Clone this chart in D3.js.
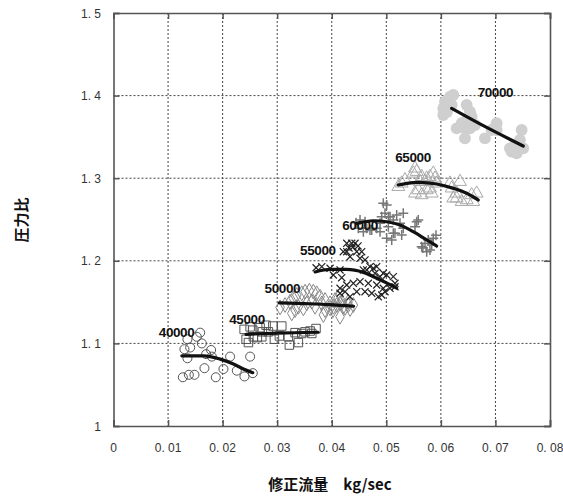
<!DOCTYPE html>
<html><head><meta charset="utf-8">
<script src="https://cdn.jsdelivr.net/npm/d3@7/dist/d3.min.js"></script>
<style>body{margin:0;background:#fff}svg{display:block}</style>
</head><body>
<script>
// ---- data ----
const xTicks = [0,0.01,0.02,0.03,0.04,0.05,0.06,0.07,0.08];
const xTickLabels = ["0","0. 01","0. 02","0. 03","0. 04","0. 05","0. 06","0. 07","0. 08"];
const yTicks = [1,1.1,1.2,1.3,1.4,1.5];
const yTickLabels = ["1","1. 1","1. 2","1. 3","1. 4","1. 5"];
const seriesNames = ["40000","45000","50000","55000","60000","65000","70000"];

const pts40000 = [[0.01271,1.059],[0.01381,1.062],[0.01484,1.062],[0.0130,1.093],[0.01355,1.082],[0.01405,1.095],[0.01355,1.105],[0.01527,1.108],[0.01588,1.113],[0.01619,1.100],[0.01698,1.087],[0.01789,1.092],[0.01802,1.084],[0.01667,1.070],[0.01875,1.059],[0.02015,1.069],[0.02137,1.084],[0.0226,1.067],[0.0240,1.060],[0.02504,1.084],[0.02553,1.064]];
const pts45000 = [[0.0243,1.105],[0.02473,1.101],[0.02504,1.120],[0.02553,1.116],[0.02564,1.108],[0.02637,1.107],[0.02687,1.119],[0.02718,1.108],[0.02729,1.114],[0.02797,1.122],[0.02839,1.114],[0.0292,1.121],[0.02949,1.105],[0.0304,1.109],[0.03084,1.121],[0.03205,1.108],[0.03223,1.098],[0.03328,1.113],[0.03388,1.101],[0.0345,1.112],[0.03511,1.114],[0.03603,1.115],[0.03634,1.112],[0.03712,1.118],[0.02394,1.117]];
const pts50000 = [[0.03053,1.1437],[0.03144,1.1465],[0.03236,1.1505],[0.03297,1.1546],[0.03359,1.1586],[0.03451,1.1607],[0.03511,1.1626],[0.0359,1.1638],[0.03663,1.1626],[0.03725,1.1607],[0.03786,1.1565],[0.03267,1.1364],[0.03328,1.1404],[0.03388,1.1444],[0.0348,1.1425],[0.03542,1.1485],[0.03634,1.1505],[0.03694,1.1444],[0.03817,1.1485],[0.03877,1.1525],[0.03969,1.1485],[0.04029,1.1444],[0.04092,1.1465],[0.04152,1.1485],[0.04212,1.1444],[0.04304,1.1465],[0.04396,1.1465],[0.04152,1.1323],[0.03969,1.1425],[0.03877,1.1404],[0.03846,1.1344],[0.0406,1.1525],[0.04115,1.155],[0.04189,1.150],[0.04244,1.143],[0.04299,1.150],[0.04335,1.1416],[0.04024,1.1404]];
const pts55000 = [[0.03713,1.1916],[0.03817,1.1929],[0.03969,1.1909],[0.04029,1.1828],[0.04152,1.1889],[0.04183,1.1795],[0.04212,1.211],[0.04275,1.2212],[0.04275,1.211],[0.04335,1.205],[0.04366,1.2212],[0.04427,1.2212],[0.04458,1.211],[0.04518,1.203],[0.04549,1.211],[0.0461,1.201],[0.04579,1.1889],[0.04641,1.1889],[0.04701,1.1929],[0.04762,1.1909],[0.04824,1.1929],[0.04793,1.1849],[0.04885,1.1808],[0.04945,1.1849],[0.05007,1.1828],[0.05128,1.1808],[0.05159,1.1686],[0.05068,1.1667],[0.04945,1.1667],[0.04824,1.1707],[0.0467,1.1728],[0.04518,1.1747],[0.04396,1.1728],[0.04275,1.1707],[0.04244,1.1626],[0.04152,1.1607],[0.04335,1.1565],[0.04458,1.1626],[0.0461,1.1626],[0.04733,1.1607],[0.04853,1.1565],[0.04976,1.1626],[0.04916,1.1586],[0.05159,1.1728],[0.04152,1.1667],[0.04317,1.2155],[0.0439,1.2167],[0.04482,1.218]];
const pts60000 = [[0.04445,1.2461],[0.04518,1.2494],[0.0461,1.2473],[0.04487,1.2393],[0.04579,1.2352],[0.04641,1.2393],[0.04701,1.2373],[0.04733,1.2373],[0.04824,1.2393],[0.04885,1.2454],[0.04885,1.2352],[0.04916,1.2534],[0.04945,1.2696],[0.04976,1.2575],[0.05007,1.2676],[0.05037,1.2534],[0.05068,1.2534],[0.05037,1.2413],[0.05128,1.2494],[0.05128,1.2333],[0.0519,1.2554],[0.05159,1.2333],[0.05099,1.2252],[0.05007,1.2272],[0.05251,1.2454],[0.05311,1.2393],[0.05282,1.2312],[0.05311,1.2575],[0.05526,1.2413],[0.05557,1.2473],[0.05586,1.2494],[0.05648,1.2171],[0.05709,1.2212],[0.05769,1.2252],[0.058,1.2131],[0.0574,1.211],[0.05861,1.2272],[0.05832,1.2191],[0.0591,1.231],[0.0567,1.2155]];
const pts65000 = [[0.0522,1.2897],[0.05282,1.2938],[0.05342,1.2978],[0.05495,1.3059],[0.05526,1.312],[0.05557,1.3079],[0.05617,1.2958],[0.05648,1.3018],[0.05709,1.2958],[0.0574,1.2999],[0.058,1.3018],[0.05861,1.3059],[0.05892,1.2999],[0.05923,1.2938],[0.05526,1.2817],[0.05586,1.2857],[0.05648,1.2797],[0.0574,1.2857],[0.058,1.2878],[0.05832,1.2817],[0.06167,1.2938],[0.06198,1.2878],[0.06289,1.2817],[0.0635,1.2958],[0.06227,1.2757],[0.06289,1.2757],[0.06381,1.2715],[0.06473,1.2736],[0.06564,1.2797],[0.06656,1.2817],[0.06593,1.2715]];
const pts70000 = [[0.06075,1.3926],[0.06167,1.3987],[0.06227,1.4007],[0.06044,1.3846],[0.06044,1.3765],[0.06198,1.3886],[0.06112,1.3801],[0.06473,1.3886],[0.06533,1.3805],[0.06564,1.3745],[0.06473,1.3705],[0.06381,1.3665],[0.06289,1.3604],[0.06441,1.3604],[0.06533,1.3604],[0.06625,1.3644],[0.06441,1.3483],[0.06808,1.3483],[0.0693,1.3584],[0.07022,1.3665],[0.07022,1.3584],[0.07266,1.3362],[0.07388,1.3301],[0.07357,1.3402],[0.0748,1.3584],[0.07449,1.3462],[0.07509,1.3362],[0.07297,1.3321]];

const fit40000 = [[0.01253,1.085],[0.01648,1.085],[0.01954,1.081],[0.02198,1.075],[0.02381,1.069],[0.02553,1.0645]];
const fit45000 = [[0.0243,1.111],[0.030,1.1125],[0.0375,1.1135]];
const fit50000 = [[0.0304,1.149],[0.036,1.148],[0.0395,1.147],[0.044,1.145]];
const fit55000 = [[0.03695,1.1865],[0.03969,1.1895],[0.04275,1.1895],[0.04579,1.186],[0.04885,1.177],[0.0519,1.167]];
const fit60000 = [[0.04458,1.2454],[0.04762,1.2485],[0.05007,1.2473],[0.05251,1.2433],[0.05495,1.2352],[0.0574,1.2252],[0.05923,1.2179]];
const fit65000 = [[0.0522,1.2918],[0.05495,1.2946],[0.05587,1.2950],[0.05923,1.2930],[0.0623,1.2877],[0.06473,1.2817],[0.06686,1.2736]];
const fit70000 = [[0.06198,1.3846],[0.0683,1.3618],[0.0751,1.3390]];

// label anchors (data units: center x, baseline y)
const labelX = [0.01156,0.02447,0.03095,0.03745,0.04518,0.05489,0.07];
const labelY = [1.108,1.1235,1.1610,1.2073,1.2372,1.3200,1.3980];

// ---- chart ----
const W = 563, H = 497;
const svg = d3.select("body").append("svg").attr("width", W).attr("height", H);
const x = d3.scaleLinear().domain([0, 0.08]).range([113.5, 550]);
const y = d3.scaleLinear().domain([1, 1.5]).range([426, 13]);
const tickFont = "'Liberation Sans', Arial, sans-serif";

// grid
const grid = svg.append("g");
grid.selectAll("line.v").data(xTicks.slice(1, -1)).join("line")
  .attr("x1", d => x(d)).attr("x2", d => x(d)).attr("y1", y(1.5)).attr("y2", y(1))
  .attr("stroke", "#444").attr("stroke-width", 1).attr("stroke-dasharray", "2,2");
grid.selectAll("line.h").data(yTicks.slice(1, -1)).join("line")
  .attr("x1", x(0)).attr("x2", x(0.08)).attr("y1", d => y(d)).attr("y2", d => y(d))
  .attr("stroke", "#444").attr("stroke-width", 1).attr("stroke-dasharray", "2,2");

// axes (inward ticks)
const axB = d3.axisBottom(x).tickValues(xTicks).tickSize(-6).tickFormat("");
const axT = d3.axisTop(x).tickValues(xTicks).tickSize(-6).tickFormat("");
const axL = d3.axisLeft(y).tickValues(yTicks).tickSize(-6).tickFormat("");
const axR = d3.axisRight(y).tickValues(yTicks).tickSize(-6).tickFormat("");
function styleAx(g){ g.selectAll("path,line").attr("stroke","#555").attr("stroke-width",1.5); }
svg.append("g").attr("transform",`translate(0,${y(1)})`).call(axB).call(styleAx);
svg.append("g").attr("transform",`translate(0,${y(1.5)})`).call(axT).call(styleAx);
svg.append("g").attr("transform",`translate(${x(0)},0)`).call(axL).call(styleAx);
svg.append("g").attr("transform",`translate(${x(0.08)},0)`).call(axR).call(styleAx);
svg.selectAll(".domain").attr("stroke","#555").attr("stroke-width",1.6);

// tick labels
svg.append("g").selectAll("text").data(xTicks).join("text")
  .attr("x", d => x(d)).attr("y", 452).attr("text-anchor","middle")
  .attr("font-family", tickFont).attr("font-size", 12).attr("fill","#333")
  .text((d,i) => xTickLabels[i]);
svg.append("g").selectAll("text").data(yTicks).join("text")
  .attr("x", 101).attr("y", d => y(d) + 4.5).attr("text-anchor","end")
  .attr("font-family", tickFont).attr("font-size", 12).attr("fill","#333")
  .text((d,i) => yTickLabels[i]);

// axis titles
svg.append("text").attr("x", 330).attr("y", 490).attr("text-anchor","middle")
  .attr("font-family","'Noto Sans CJK JP', sans-serif").attr("font-weight","bold")
  .attr("font-size", 15).attr("fill","#111").text("修正流量\u3000kg/sec");
svg.append("text").attr("transform","translate(27,220) rotate(-90)").attr("text-anchor","middle")
  .attr("font-family","'Noto Sans CJK JP', sans-serif").attr("font-weight","bold")
  .attr("font-size", 15).attr("fill","#111").text("圧力比");

// markers
const allPts = [pts40000, pts45000, pts50000, pts55000, pts60000, pts65000, pts70000];
const symTypes = [d3.symbolCircle, d3.symbolSquare, d3.symbolDiamond, d3.symbolCross, d3.symbolCross, d3.symbolTriangle, d3.symbolCircle];
const symSizes = [64, 72, 64, 0, 0, 72, 110];
const strokes = ["#555","#555","#888","#222","#777","#aaa","none"];
const fills = ["none","none","none","none","none","none","#cfcfcf"];
const pg = svg.append("g");
allPts.forEach((pts, i) => {
  const g = pg.append("g");
  if (i === 3 || i === 4) {
    const r = i === 3 ? 5 : 5;
    g.selectAll("path").data(pts).join("path")
      .attr("transform", d => `translate(${x(d[0])},${y(d[1])})` + (i === 3 ? " rotate(45)" : ""))
      .attr("d", `M${-r},0H${r}M0,${-r}V${r}`)
      .attr("stroke", strokes[i]).attr("stroke-width", i === 3 ? 1.2 : 1.5).attr("fill","none");
  } else {
    g.selectAll("path").data(pts).join("path")
      .attr("transform", d => `translate(${x(d[0])},${y(d[1])})`)
      .attr("d", d3.symbol().type(symTypes[i]).size(symSizes[i]))
      .attr("stroke", strokes[i]).attr("stroke-width", 1).attr("fill", fills[i]);
  }
});

// fitted curves
const fits = [fit40000, fit45000, fit50000, fit55000, fit60000, fit65000, fit70000];
const line = d3.line().x(d => x(d[0])).y(d => y(d[1])).curve(d3.curveMonotoneX);
svg.append("g").selectAll("path").data(fits).join("path")
  .attr("d", line).attr("fill","none").attr("stroke","#111").attr("stroke-width",3.2).attr("stroke-linecap","round");

// series labels
svg.append("g").selectAll("text").data(seriesNames).join("text")
  .attr("x", (d,i) => x(labelX[i])).attr("y", (d,i) => y(labelY[i]))
  .attr("text-anchor","middle").attr("font-family", tickFont).attr("font-weight","bold")
  .attr("font-size", 13.5).attr("fill","#111").attr("letter-spacing", -0.4).text(d => d);
</script>
</body></html>
